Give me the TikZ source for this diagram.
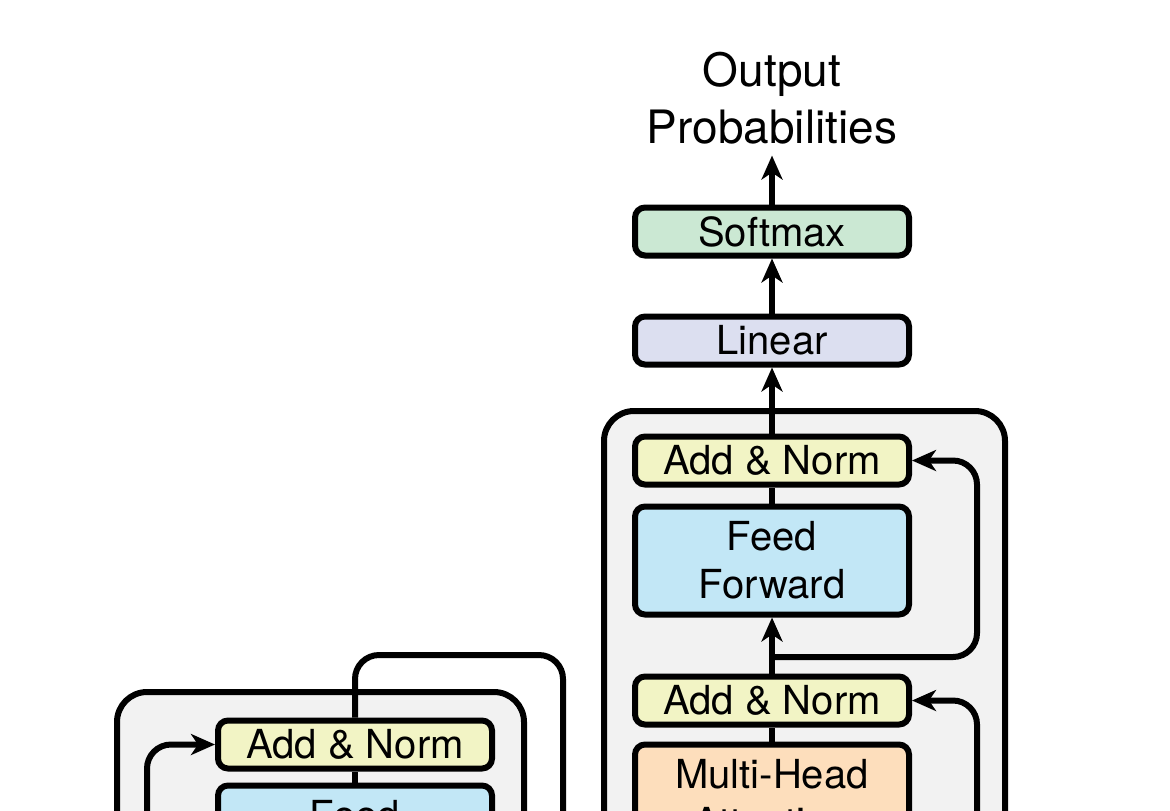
\documentclass[tikz,border=0pt]{standalone}
\usepackage{fontspec}
\setmainfont{TeX Gyre Heros}
\usetikzlibrary{positioning, arrows.meta}
\definecolor{normcol}{RGB}{242,244,197}
\definecolor{ffcol}{RGB}{194,231,246}
\definecolor{softcol}{RGB}{203,232,211}
\definecolor{lincol}{RGB}{220,223,240}
\definecolor{attcol}{RGB}{253,222,188}
\definecolor{layercol}{RGB}{242,242,242}

\begin{document}
\begin{tikzpicture}[x=0.5pt, y=-0.5pt, line width=3pt,
    every node/.style={font=\fontsize{20}{24}\selectfont},
    block/.style={draw, rounded corners=5pt, minimum width=137pt, align=center, inner sep=0pt},
    thinblock/.style={block, minimum height=24pt},
    tallblock/.style={block, minimum height=54pt},
    layer/.style={draw, fill=layercol, rounded corners=15pt},
    flow/.style={-{Stealth[length=12pt, width=10.5pt, inset=3.5pt]}},
    skip/.style={rounded corners=12pt}]
    \useasboundingbox (0,0) rectangle (1170,810);
    \clip (0,0) rectangle (1170,810);

    % layer backgrounds
    \draw[layer] (117,692) rectangle (524,1000);
    \draw[layer] (604,411) rectangle (1005,1000);

    % decoder stack
    \node[thinblock, fill=normcol] (dnorm2) at (772,700.5) {Add \& Norm};
    \node[tallblock, fill=attcol, below=7pt of dnorm2] (dmha) {Multi-Head\\Attention};
    \node[tallblock, fill=ffcol, above=28pt of dnorm2] (dff) {Feed\\Forward};
    \node[thinblock, fill=normcol, above=8pt of dff] (dnorm1) {Add \& Norm};
    \node[thinblock, fill=lincol, above=33pt of dnorm1] (linear) {Linear};
    \node[thinblock, fill=softcol, above=27.5pt of linear] (softmax) {Softmax};
    \node[inner sep=0pt, align=center, font=\fontsize{23}{28.5}\selectfont] (output) at (772,98.5) {Output\\Probabilities};

    % encoder stack
    \node[thinblock, fill=normcol] (enorm) at (355,744.5) {Add \& Norm};
    \node[tallblock, fill=ffcol, below=5.5pt of enorm] (eff) {Feed\\Forward};

    \coordinate (dbranch) at (772,657);
    \coordinate (dskip1) at (977,657);
    \coordinate (dskip2) at (977,900);
    \coordinate (eskip) at (147,900);
    \coordinate (eturn) at (563,655);
    \coordinate (eout) at (563,900);

    \draw (dmha) -- (dnorm2);
    \draw[flow] (dnorm2.north) -- (dff.south);
    \draw (dff) -- (dnorm1);
    \draw[flow] (dnorm1.north) -- (linear.south);
    \draw[flow] (linear) -- (softmax);
    \draw[flow, shorten >=4pt] (softmax.north) -- (output.south);
    \draw[flow, skip] (dbranch) -- (dskip1) |- (dnorm1.east);
    \draw[flow, skip] (dskip2) |- (dnorm2.east);

    \draw (eff) -- (enorm);
    \draw[flow, skip] (eskip) |- (enorm.west);
    \draw[skip] (enorm.north) |- (eturn) -- (eout);
\end{tikzpicture}
\end{document}
